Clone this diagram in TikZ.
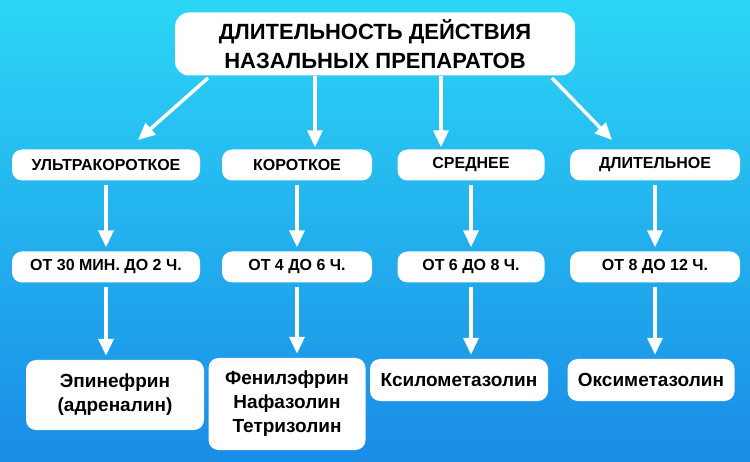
\documentclass[tikz,border=0pt]{standalone}
\usepackage{fontspec}
\setmainfont{Liberation Sans}
\usetikzlibrary{arrows.meta}
\definecolor{bgtop}{HTML}{2CD6F6}
\definecolor{bgbot}{HTML}{1A8CE6}
\tikzset{
  pill/.style={draw=none, fill=white, rounded corners=10pt, font=\bfseries\fontsize{16}{19}\selectfont, align=center, inner sep=2pt},
  drug/.style={pill, font=\bfseries\fontsize{19}{24}\selectfont},
  pointer/.style={draw=white, line width=3.5pt, -{Triangle[width=15pt,length=17pt]}, shorten >=4pt, shorten <=4pt}
}
\begin{document}
\begin{tikzpicture}[x=1pt,y=-1pt]
    \fill[top color=bgtop, bottom color=bgbot] (0,0) rectangle (750,462);
    \node[pill, font=\bfseries\fontsize{22}{29}\selectfont, minimum width=400pt, minimum height=63pt, rounded corners=14pt] (title) at (375,44) {ДЛИТЕЛЬНОСТЬ ДЕЙСТВИЯ\\НАЗАЛЬНЫХ ПРЕПАРАТОВ};
    % types
    \node[pill, minimum width=188pt, minimum height=31pt] (t1) at (106,165) {УЛЬТРАКОРОТКОЕ};
    \node[pill, minimum width=150pt, minimum height=31pt] (t2) at (297,165) {КОРОТКОЕ};
    \node[pill, minimum width=147pt, minimum height=31pt] (t3) at (471,165) {СРЕДНЕЕ};
    \node[pill, minimum width=170pt, minimum height=31pt] (t4) at (655,165) {ДЛИТЕЛЬНОЕ};
    % durations
    \node[pill, minimum width=188pt, minimum height=31pt] (d1) at (106,267) {ОТ 30 МИН. ДО 2 Ч.};
    \node[pill, minimum width=150pt, minimum height=31pt] (d2) at (297,267) {ОТ 4 ДО 6 Ч.};
    \node[pill, minimum width=147pt, minimum height=31pt] (d3) at (471,267) {ОТ 6 ДО 8 Ч.};
    \node[pill, minimum width=170pt, minimum height=31pt] (d4) at (655,267) {ОТ 8 ДО 12 Ч.};
    % drugs
    \node[drug, minimum width=178pt, minimum height=70pt] (p1) at (115,395) {Эпинефрин\\(адреналин)};
    \node[drug, minimum width=157pt, minimum height=92pt] (p2) at (287,404) {Фенилэфрин\\Нафазолин\\Тетризолин};
    \node[drug, minimum width=178pt, minimum height=42pt] (p3) at (459,380) {Ксилометазолин};
    \node[drug, minimum width=167pt, minimum height=42pt] (p4) at (651,380) {Оксиметазолин};
    \coordinate (a1) at (208,78);
    \coordinate (b1) at (138,140);
    \coordinate (a2) at (315,76);
    \coordinate (a3) at (441,76);
    \coordinate (a4) at (552,78);
    \coordinate (b4) at (612,140);
    \draw[pointer, shorten <=0pt, shorten >=0pt] (a1) -- (b1);
    \draw[pointer, shorten <=0pt, shorten >=2pt] (a2) -- (a2 |- t2.north);
    \draw[pointer, shorten <=0pt, shorten >=2pt] (a3) -- (a3 |- t3.north);
    \draw[pointer, shorten <=0pt, shorten >=0pt] (a4) -- (b4);
    \foreach \i in {1,...,4} {
      \draw[pointer] (t\i) -- (d\i);
      \draw[pointer] (d\i.south) -- (d\i.south |- p\i.north);
    }
\end{tikzpicture}
\end{document}
